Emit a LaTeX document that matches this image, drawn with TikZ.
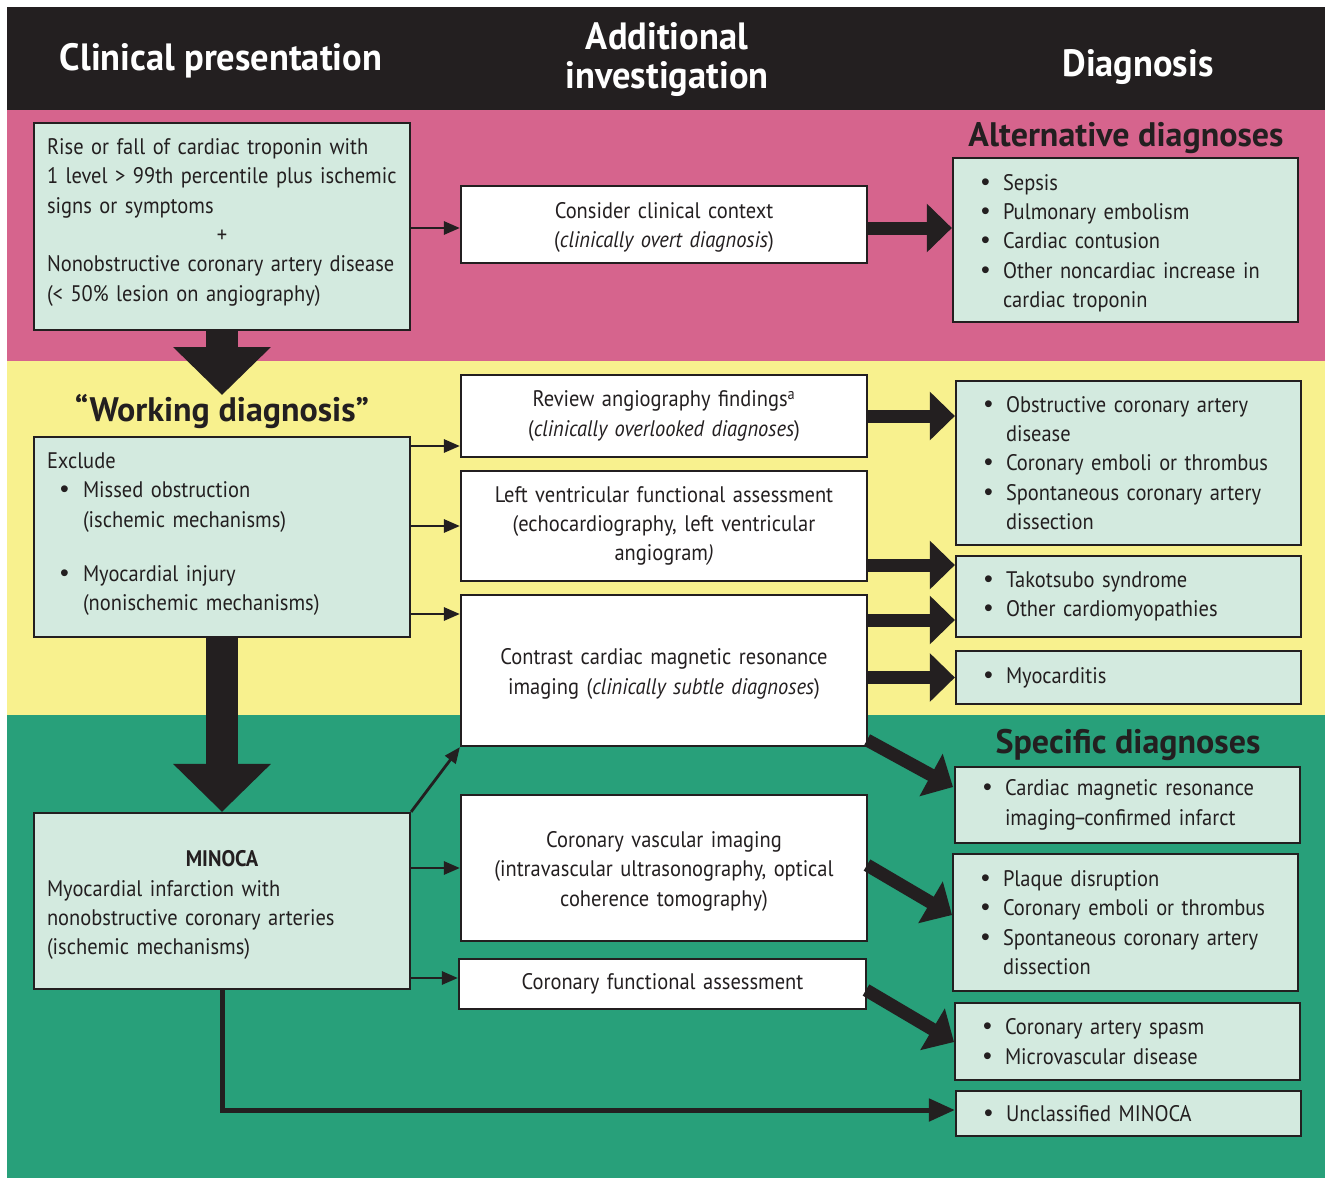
\documentclass[tikz,border=0pt]{standalone}
\usepackage{fontspec}
\setmainfont{PT Sans}
\newfontfamily\bodyfont[FakeStretch=0.91]{PT Sans}
\newfontfamily\headfont[FakeStretch=0.96]{PT Sans}
\newfontfamily\titlefont{PT Sans}
\newfontfamily\bulfont{Liberation Sans}
\usetikzlibrary{arrows.meta}
\definecolor{dk}{HTML}{231F20}
\definecolor{pinkband}{HTML}{D6648D}
\definecolor{yelband}{HTML}{F8F18E}
\definecolor{grnband}{HTML}{28A07A}
\definecolor{boxg}{HTML}{D3EADF}
\newcommand{\bdot}{{\bulfont\fontsize{25}{25}\selectfont •}}
\newcommand{\bl}{\makebox[22pt][l]{\bdot}}
\newcommand{\ind}{\hspace*{22pt}}
\newcommand{\tl}[1]{\\[#1]\mbox{}}
\begin{document}
\begin{tikzpicture}[x=1pt,y=-1pt,
  body/.style={font=\bodyfont\fontsize{22.5}{29.4}\selectfont},
  gbox/.style={draw=dk, line width=2.2pt, fill=boxg, text=dk, inner ysep=0pt, body, align=left},
  wbox/.style={gbox, fill=white, align=center},
  hdr/.style={text=white, font=\headfont\fontsize{38}{39}\selectfont\bfseries, align=center},
  ttl/.style={text=dk, font=\titlefont\fontsize{34}{36}\selectfont\bfseries},
  thin/.style={draw=dk, line width=2.8pt, -{Triangle[length=16pt,width=13pt]}},
  thick/.style={draw=dk, line width=13pt, -{Triangle[length=25pt,width=47pt]}},
  big/.style={draw=dk, line width=32pt, -{Triangle[length=48pt,width=95pt]}},
  mid/.style={draw=dk, line width=5pt, -{Triangle[length=26pt,width=22pt]}}]
\useasboundingbox (0,0) rectangle (1325,1178);
% bands
\fill[dk] (7,7) rectangle (1325,110);
\fill[pinkband] (7,110) rectangle (1325,361);
\fill[yelband] (7,361) rectangle (1325,715);
\fill[grnband] (7,715) rectangle (1325,1178);
% headers
\node[hdr] (h1) at (221,61) {Clinical presentation};
\node[hdr] (h2) at (667,60) {Additional\\investigation};
\node[hdr] (h3) at (1138,67) {Diagnosis};
% titles
\node[ttl] (altt) at (1126,138) {Alternative diagnoses};
\node[ttl] (wdt) at (222,412) {“Working diagnosis”};
\node[ttl] (spt) at (1128,745) {Specific diagnoses};
% left column
\node[gbox, minimum width=376, minimum height=207, inner xsep=13, text width=350] (clin) at (222,226.5)
 {Rise or fall of cardiac troponin with\\
  1 level > 99th percentile plus ischemic\\
  signs or symptoms\\
  \makebox[350pt]{+}\\
  Nonobstructive coronary artery disease\\
  (< 50\% lesion on angiography)\tl{-16pt}};
\node[gbox, minimum width=376, minimum height=200, inner xsep=13, text width=350] (excl) at (222,537)
 {Exclude\\
  \hspace*{13pt}\makebox[23pt][l]{\bdot}Missed obstruction\\
  \hspace*{36pt}(ischemic mechanisms)\\[24.6pt]
  \hspace*{13pt}\makebox[23pt][l]{\bdot}Myocardial injury\\
  \hspace*{36pt}(nonischemic mechanisms)\tl{-19pt}};
\node[gbox, minimum width=376, minimum height=176, inner xsep=13, text width=350] (minoca) at (222,901)
 {\makebox[350pt]{\bfseries MINOCA}\\
  Myocardial infarction with\\
  nonobstructive coronary arteries\\
  (ischemic mechanisms)\tl{-33pt}};
% middle column
\node[wbox, minimum width=406, minimum height=77, inner xsep=10, text width=386] (cons) at (664,224.5)
 {Consider clinical context\\(\textit{clinically overt diagnosis})\tl{-30pt}};
\node[wbox, minimum width=406, minimum height=82, inner xsep=10, text width=386] (rev) at (664,416)
 {Review angiography findings\textsuperscript{a}\\(\textit{clinically overlooked diagnoses})};
\node[wbox, minimum width=406, minimum height=110, inner xsep=10, text width=386] (lv) at (664,526)
 {Left ventricular functional assessment\\(echocardiography, left ventricular\\angiogram\textit{)}};
\node[wbox, minimum width=406, minimum height=151, inner xsep=10, text width=386] (cmr) at (664,670.5)
 {Contrast cardiac magnetic resonance\\imaging (\textit{clinically subtle diagnoses})\tl{-31pt}};
\node[wbox, minimum width=406, minimum height=146, inner xsep=10, text width=386] (cvi) at (664,868)
 {Coronary vascular imaging\\(intravascular ultrasonography, optical\\coherence tomography)\tl{-31pt}};
\node[wbox, minimum width=407, minimum height=50, inner xsep=10, text width=387] (cfa) at (662.5,984)
 {Coronary functional assessment};
% right column
\node[gbox, minimum width=345, minimum height=164, inner xsep=28, text width=289] (alt) at (1125.5,240)
 {\bl Sepsis\\\bl Pulmonary embolism\\\bl Cardiac contusion\\\bl Other noncardiac increase in\\\ind cardiac troponin\tl{-31pt}};
\node[gbox, minimum width=345, minimum height=164, inner xsep=28, text width=289] (obs) at (1128.5,463)
 {\bl Obstructive coronary artery\\\ind disease\\\bl Coronary emboli or thrombus\\\bl Spontaneous coronary artery\\\ind dissection};
\node[gbox, minimum width=345, minimum height=81, inner xsep=28, text width=289] (tak) at (1128.5,596.5)
 {\bl Takotsubo syndrome\\\bl Other cardiomyopathies};
\node[gbox, minimum width=345, minimum height=53, inner xsep=28, text width=289] (myo) at (1128.5,677.5)
 {\bl Myocarditis};
\node[gbox, minimum width=345, minimum height=76, inner xsep=28, text width=289] (inf) at (1127.5,805)
 {\bl Cardiac magnetic resonance\\\ind imaging\kern-2.5pt–\kern-2.5pt confirmed infarct};
\node[gbox, minimum width=345, minimum height=137, inner xsep=28, text width=289] (plq) at (1125.5,922.5)
 {\bl Plaque disruption\\\bl Coronary emboli or thrombus\\\bl Spontaneous coronary artery\\\ind dissection};
\node[gbox, minimum width=345, minimum height=77, inner xsep=28, text width=289] (spa) at (1127.5,1041.5)
 {\bl Coronary artery spasm\\\bl Microvascular disease};
\node[gbox, minimum width=345, minimum height=45, inner xsep=28, text width=289] (unc) at (1128.5,1113.5)
 {\bl Unclassified MINOCA};
% coordinates
\coordinate (wtip) at (222,395);
\coordinate (c1) at (410,228);
\coordinate (e1) at (410,446);
\coordinate (e3) at (410,614);
\coordinate (m3) at (410,978);
\coordinate (lvo) at (867,565);
\coordinate (cmo) at (867,620);
\coordinate (cmd) at (867,740);
\coordinate (infi) at (953,787);
\coordinate (cvo) at (867,865);
\coordinate (plqi) at (952,915);
\coordinate (cfo) at (866,990);
\coordinate (spai) at (954,1042);
% arrows
\draw[thin] (c1) -- (c1 -| cons.west);
\draw[thick] (c1 -| cons.east) -- (c1 -| alt.west);
\draw[big] (clin.south) -- (wtip);
\draw[thin] (e1) -- (e1 -| rev.west);
\draw[thin] (excl.east |- lv.west) -- (lv.west);
\draw[thin] (e3) -- (e3 -| cmr.west);
\draw[thick] (rev.east) -- (rev.east -| obs.west);
\draw[thick] (lvo) -- (lvo -| tak.west);
\draw[thick] (cmo) -- (cmo -| tak.west);
\draw[thick] (cmr.east |- myo.west) -- (myo.west);
\draw[big] (excl.south) -- (minoca.north);
\draw[thin] (minoca.north east) -- (cmr.south west);
\draw[thin] (minoca.east |- cvi.west) -- (cvi.west);
\draw[thin] (m3) -- (m3 -| cfa.west);
\draw[thick] (cmd) -- (infi);
\draw[thick] (cvo) -- (plqi);
\draw[thick] (cfo) -- (spai);
\draw[mid] (minoca.south) |- ([yshift=3.5pt]unc.west);
\end{tikzpicture}
\end{document}
